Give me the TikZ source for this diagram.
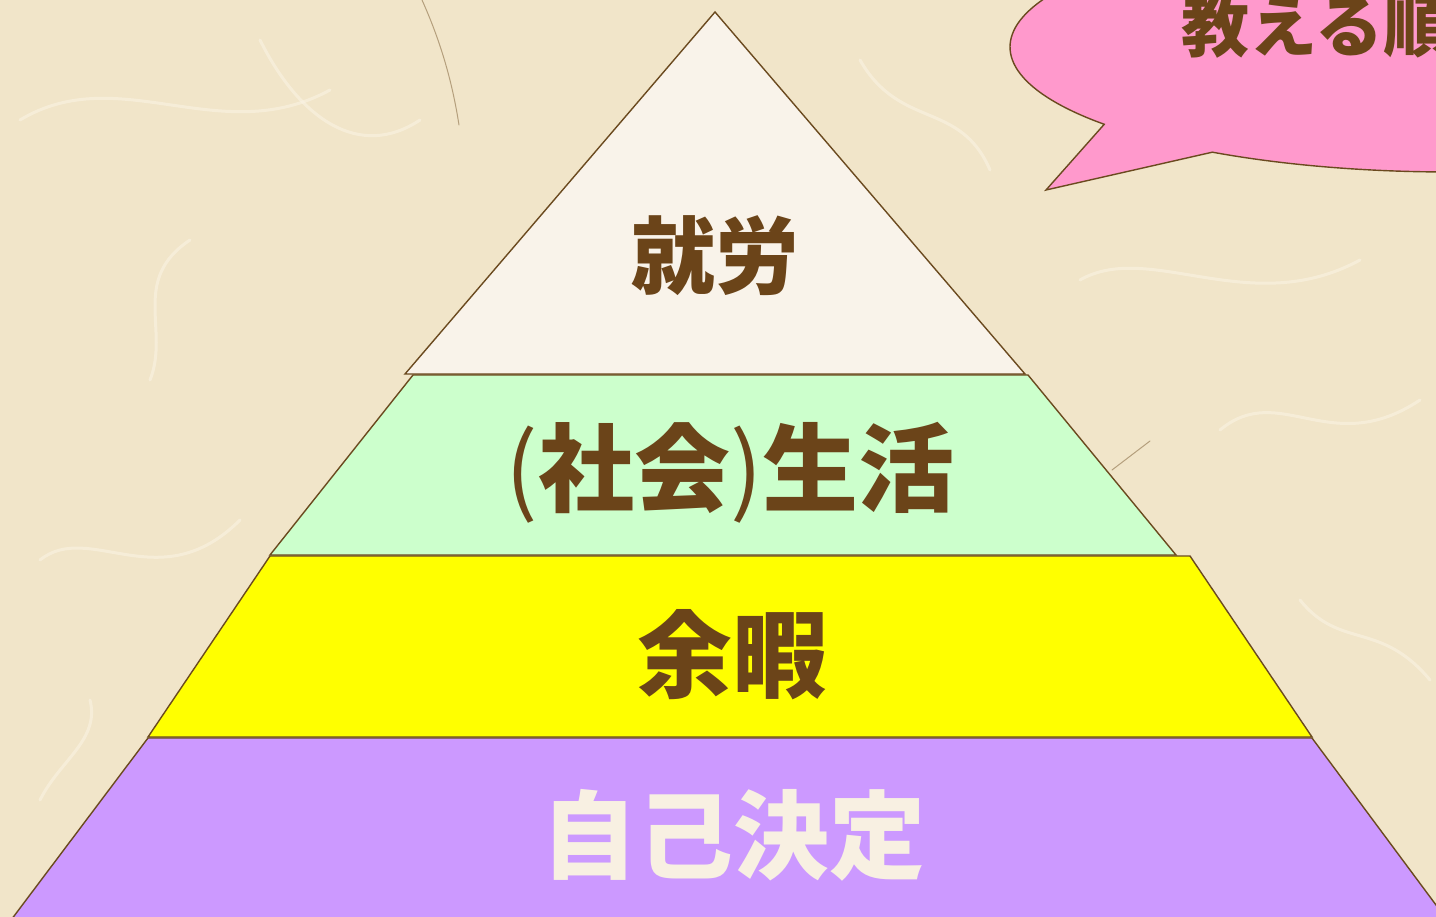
\documentclass[tikz,border=0pt]{standalone}
\usepackage{fontspec}
\newfontfamily\cjk{Noto Sans CJK JP}
\definecolor{bgc}{HTML}{F1E5C9}
\definecolor{fiber}{HTML}{FBF4E6}
\definecolor{edgec}{HTML}{6B4A1F}
\definecolor{txtc}{HTML}{6B4419}
\definecolor{topc}{HTML}{F9F3EA}
\definecolor{greenc}{HTML}{CCFFCC}
\definecolor{yellowc}{HTML}{FFFF00}
\definecolor{purplec}{HTML}{CC99FF}
\definecolor{pinkc}{HTML}{FF99CC}
\definecolor{lightc}{HTML}{F8F0E2}
\tikzset{
  layer/.style={draw=edgec, line width=1.4pt, line join=miter},
  label/.style={inner sep=0pt, font=\cjk\bfseries, text=txtc},
  fib/.style={draw=fiber, line width=3pt, opacity=0.55, line cap=round},
  darkfib/.style={draw=edgec, line width=1pt, opacity=0.45, line cap=round}
}
\begin{document}
\begin{tikzpicture}[x=1pt,y=-1pt]
\useasboundingbox (0,0) rectangle (1436,917);
\clip (0,0) rectangle (1436,917);
\fill[bgc] (0,0) rectangle (1436,917);
% paper fibres
\draw[fib] (20,120) .. controls (120,60) and (220,150) .. (330,90);
\draw[fib] (150,380) .. controls (170,330) and (130,280) .. (190,240);
\draw[fib] (40,560) .. controls (90,520) and (160,600) .. (240,520);
\draw[fib] (260,40) .. controls (300,120) and (360,160) .. (420,120);
\draw[fib] (1080,280) .. controls (1150,240) and (1250,320) .. (1360,260);
\draw[fib] (1220,430) .. controls (1280,380) and (1330,460) .. (1420,400);
\draw[fib] (1300,600) .. controls (1340,650) and (1380,620) .. (1430,680);
\draw[fib] (860,60) .. controls (900,130) and (960,100) .. (990,170);
\draw[fib] (40,800) .. controls (60,760) and (100,740) .. (90,700);
\draw[darkfib] (422,0) .. controls (440,40) and (452,80) .. (459,125);
\draw[darkfib] (1112,470) -- (1150,441);
% pyramid
\filldraw[layer, fill=purplec] (148,738) -- (1312,738) -- (1462,940) -- (-4,940) -- cycle;
\filldraw[layer, fill=yellowc] (270,556) -- (1190,556) -- (1312,737) -- (148,737) -- cycle;
\filldraw[layer, fill=greenc] (413,375) -- (1028,375) -- (1176,555) -- (270,555) -- cycle;
\filldraw[layer, fill=topc] (715,12) -- (1025,374) -- (405,374) -- cycle;
\node[label, font=\cjk\bfseries\fontsize{84}{84}\selectfont] (l1) at (715,256) {就労};
\node[label, font=\cjk\bfseries\fontsize{96}{96}\selectfont] (l2) at (730,473) {{\mdseries(}社会{\mdseries)}生活};
\node[label, font=\cjk\bfseries\fontsize{95}{95}\selectfont] (l3) at (732,655) {余暇};
\node[label, font=\cjk\bfseries\fontsize{96}{96}\selectfont, text=lightc] (l4) at (733,835) {自己決定};
% callout
\filldraw[layer, fill=pinkc] (1046,190) -- ({1450+440*cos(141.8)},{47+125*sin(141.8)})
  -- plot[domain=141.8:482.7, samples=160, smooth] ({1450+440*cos(\x)},{47+125*sin(\x)})
  -- cycle;
\node[label, anchor=base west, font=\cjk\bfseries\fontsize{68}{68}\selectfont] (co) at (1181,52) {教える順};
\end{tikzpicture}
\end{document}
